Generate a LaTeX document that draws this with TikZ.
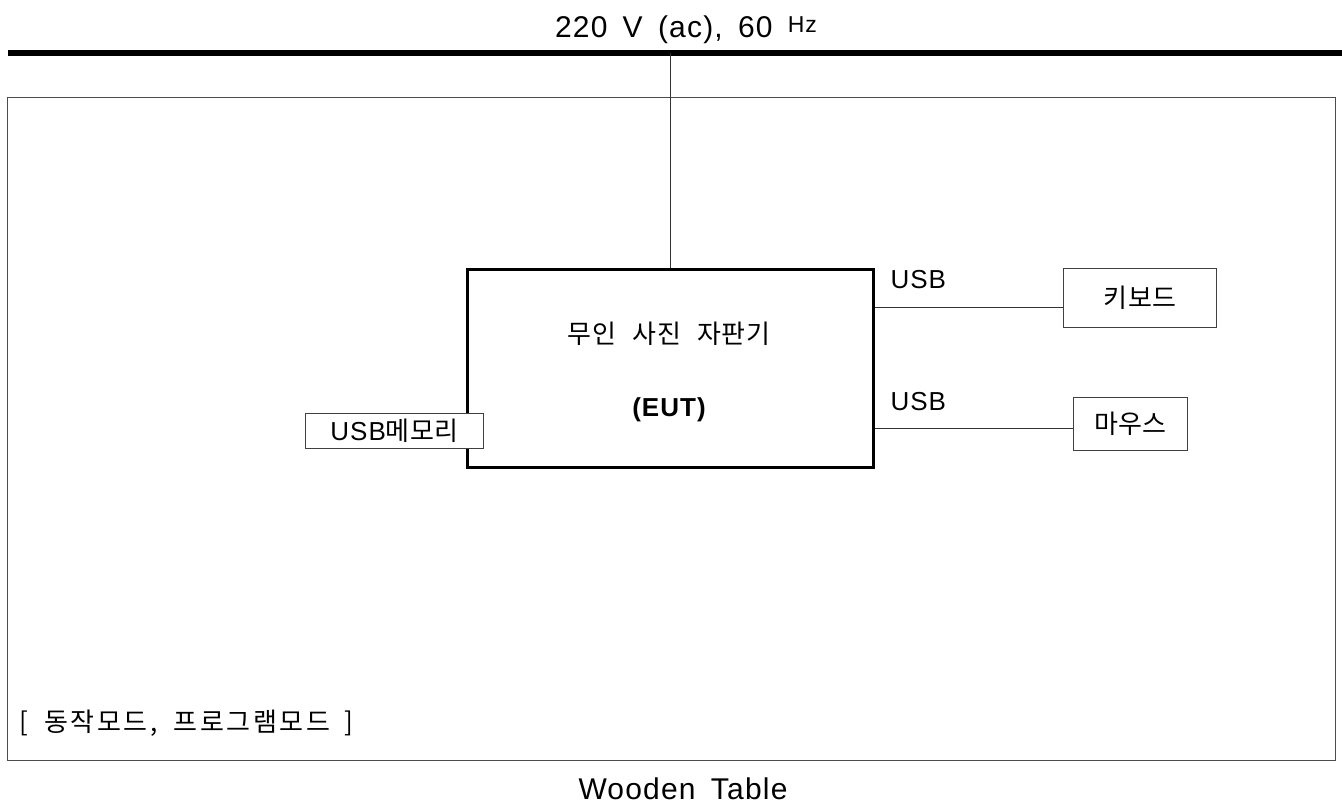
\documentclass[tikz,border=0pt]{standalone}
\usepackage{fontspec}
\setmainfont{Liberation Sans}[WordSpace=1.6,LetterSpace=4]
\newfontfamily\kor{Noto Sans CJK KR}[WordSpace=2.6,LetterSpace=2]
\newfontfamily\korwide{Noto Sans CJK KR}[LetterSpace=10]
\usetikzlibrary{positioning}
\newcommand\dn[1]{\raisebox{-3pt}{#1}}
\tikzset{
  wire/.style={draw=black!80, line width=1pt},
  smallbox/.style={draw=black!75, line width=1pt, fill=white, inner sep=0pt},
  latin/.style={font=\fontsize{26}{30}\selectfont},
  hangul/.style={font=\kor\fontsize{26}{30}\selectfont}
}
\begin{document}
\begin{tikzpicture}[x=1pt,y=-1pt]
  \useasboundingbox (0,0) rectangle (1342,811);
  % Linea de alimentacion
  \coordinate (mainsL) at (8,53);
  \coordinate (mainsR) at (1342,53);
  \coordinate (tap) at (670,53);
  \draw[line width=6pt] (mainsL) -- (mainsR);
  \node[anchor=base, font=\fontsize{30}{34}\selectfont] (mains) at (686,37)
    {220 V (ac), 60 \raisebox{5pt}{\fontsize{23}{26}\selectfont Hz}};
  % Mesa
  \node[draw=black!70, line width=1pt, minimum width=1328pt, minimum height=663pt, inner sep=0pt] (table) at (671,428.5) {};
  \node[anchor=base, font=\fontsize{30}{34}\selectfont] (tablename) at (683,799) {Wooden Table};
  \node[anchor=base west, font=\korwide\fontsize{26}{30}\selectfont] (mode) at (16,731)
    {[\hspace{16pt}동작모드,\hspace{16pt}프로그램모드\hspace{14pt}]};
  % EUT
  \node[draw, line width=3pt, minimum width=406pt, minimum height=198pt, inner sep=0pt] (eut) at (670.5,368.5) {};
  \node[hangul] (eutname) at (669,334) {무인 사진 자판기};
  \node[font=\bfseries\fontsize{26}{30}\selectfont] (eutlbl) at (669,410) {(EUT)};
  \draw[wire] (tap) -- (tap |- eut.north);
  % Perifericos
  \node[smallbox, minimum width=178pt, minimum height=35pt] (usbmem) at (394.5,431)
    {\dn{\fontsize{26}{30}\selectfont USB{\kor\fontsize{26}{30}\selectfont 메모리}}};
  \node[smallbox, minimum width=153pt, minimum height=59pt, hangul] (kbd) at (1140,298) {\dn{키보드}};
  \node[smallbox, minimum width=114pt, minimum height=53pt, hangul] (mouse) at (1130.5,424) {\dn{마우스}};
  \coordinate (kbdin) at ([yshift=-9pt]kbd.west);
  \coordinate (mousein) at ([yshift=-4pt]mouse.west);
  \draw[wire] (eut.east |- kbdin) -- (kbdin);
  \draw[wire] (eut.east |- mousein) -- (mousein);
  \node[latin, anchor=base west] (usbA) at (887,288) {USB};
  \node[latin, anchor=base west] (usbB) at (887,410) {USB};
\end{tikzpicture}
\end{document}
